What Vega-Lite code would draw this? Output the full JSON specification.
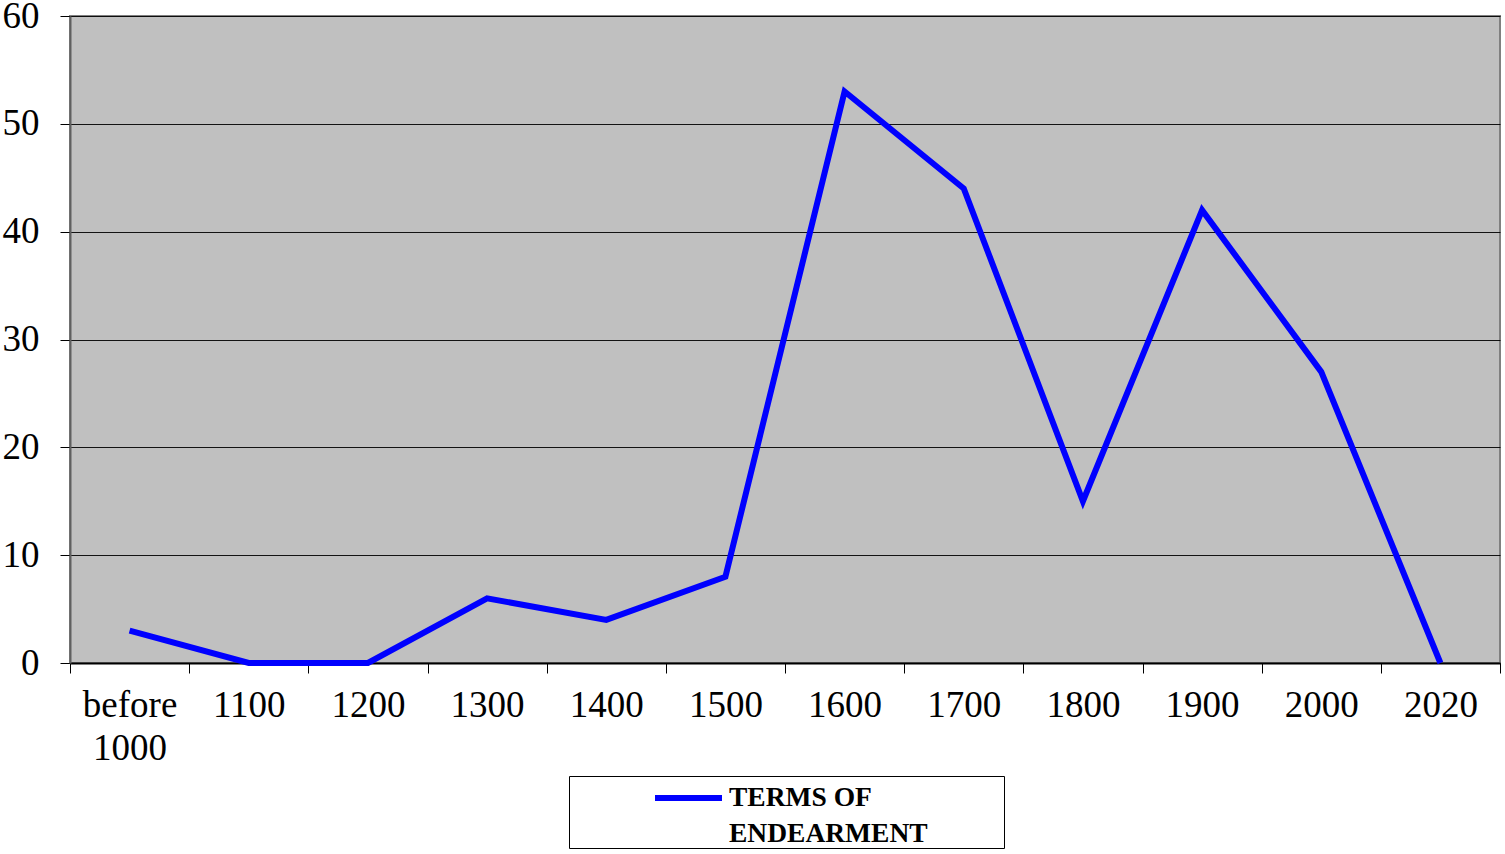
{
  "$schema": "https://vega.github.io/schema/vega-lite/v6.json",
  "width": 1430,
  "height": 647,
  "autosize": {"type": "none"},
  "padding": {"left": 70, "top": 16, "right": 5, "bottom": 191},
  "background": "white",
  "config": {
    "font": "Liberation Serif",
    "view": {"fill": "#C0C0C0", "stroke": "#808080", "strokeWidth": 2}
  },
  "data": {
    "values": [
      {"period": "before 1000", "count": 3, "series": "TERMS OF ENDEARMENT"},
      {"period": "1100", "count": 0, "series": "TERMS OF ENDEARMENT"},
      {"period": "1200", "count": 0, "series": "TERMS OF ENDEARMENT"},
      {"period": "1300", "count": 6, "series": "TERMS OF ENDEARMENT"},
      {"period": "1400", "count": 4, "series": "TERMS OF ENDEARMENT"},
      {"period": "1500", "count": 8, "series": "TERMS OF ENDEARMENT"},
      {"period": "1600", "count": 53, "series": "TERMS OF ENDEARMENT"},
      {"period": "1700", "count": 44, "series": "TERMS OF ENDEARMENT"},
      {"period": "1800", "count": 15, "series": "TERMS OF ENDEARMENT"},
      {"period": "1900", "count": 42, "series": "TERMS OF ENDEARMENT"},
      {"period": "2000", "count": 27, "series": "TERMS OF ENDEARMENT"},
      {"period": "2020", "count": 0, "series": "TERMS OF ENDEARMENT"}
    ]
  },
  "mark": {"type": "line", "strokeWidth": 6, "strokeJoin": "miter"},
  "encoding": {
    "x": {
      "field": "period",
      "type": "ordinal",
      "sort": null,
      "bandPosition": 0.5,
      "scale": {"type": "band", "paddingInner": 0, "paddingOuter": 0},
      "axis": {
        "title": null,
        "tickBand": "extent",
        "labelAngle": 0,
        "labelFontSize": 37,
        "labelColor": "black",
        "labelPadding": 14,
        "labelLineHeight": 43,
        "tickSize": 10,
        "tickColor": "black",
        "domainColor": "black",
        "domainWidth": 2,
        "grid": false,
        "labelExpr": "datum.value == 'before 1000' ? ['before', '1000'] : datum.value"
      }
    },
    "y": {
      "field": "count",
      "type": "quantitative",
      "scale": {"domain": [0, 60], "nice": false},
      "axis": {
        "title": null,
        "values": [0, 10, 20, 30, 40, 50, 60],
        "grid": true,
        "gridColor": "black",
        "gridWidth": 1,
        "gridOpacity": 0.9,
        "labelFontSize": 37,
        "labelColor": "black",
        "labelPadding": 21,
        "tickSize": 10,
        "tickColor": "black",
        "domainColor": "#606060",
        "domainWidth": 2
      }
    },
    "color": {
      "field": "series",
      "type": "nominal",
      "scale": {"range": ["#0000FF"]},
      "legend": {
        "title": null,
        "orient": "none",
        "legendX": 499,
        "legendY": 760,
        "symbolType": "stroke",
        "symbolSize": 4489,
        "symbolStrokeWidth": 6,
        "symbolOffset": 83,
        "padding": 0,
        "labelFontSize": 27.5,
        "labelFontWeight": "bold",
        "labelColor": "black",
        "labelOffset": 4,
        "labelLimit": 600,
        "strokeColor": "#000000",
        "fillColor": "white",
        "labelExpr": "['TERMS OF', 'ENDEARMENT\u00a0\u00a0\u00a0\u00a0\u00a0\u00a0\u00a0\u00a0\u00a0\u00a0\u00a0\u200b']",
        "encode": {
          "labels": {"update": {"lineHeight": {"value": 36}, "y": {"value": 22}}},
          "symbols": {"update": {"y": {"value": 22}}}
        }
      }
    }
  }
}
